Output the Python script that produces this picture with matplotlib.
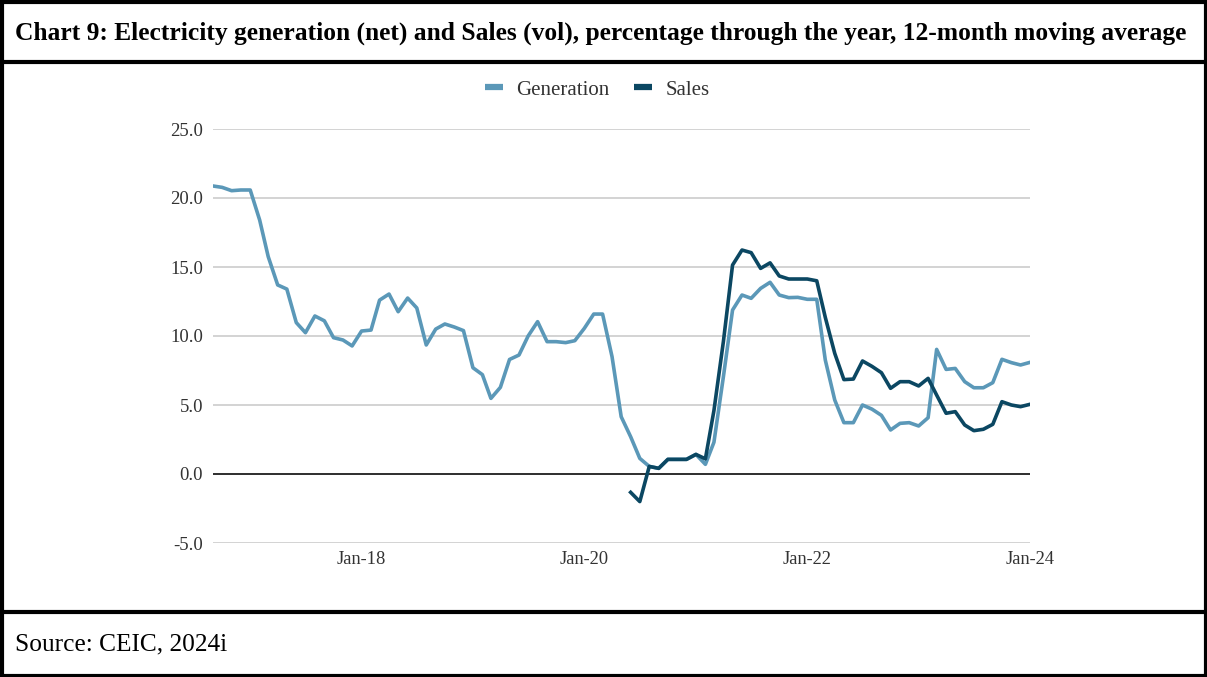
import matplotlib
matplotlib.use("Agg")
import matplotlib.pyplot as plt
import matplotlib.dates as mdates
from matplotlib.lines import Line2D
import numpy as np
import pandas as pd

# ---- data ----
dates = pd.date_range("2016-09-01", "2024-01-01", freq="MS")
generation = [20.87, 20.77, 20.53, 20.58, 20.58, 18.4, 15.75, 13.7, 13.4, 10.97,
              10.24, 11.45, 11.1, 9.88, 9.71, 9.28, 10.36, 10.43, 12.6, 13.04,
              11.76, 12.75, 12.03, 9.35, 10.5, 10.87, 10.65, 10.39, 7.7, 7.2,
              5.48, 6.28, 8.3, 8.62, 10.0, 11.04, 9.59, 9.59, 9.52, 9.66,
              10.55, 11.59, 11.59, 8.5, 4.15, 2.7, 1.13, 0.55, 0.41, 1.06,
              1.06, 1.06, 1.42, 0.7, 2.3, 7.05, 11.88, 12.97, 12.73, 13.45,
              13.89, 12.97, 12.78, 12.8, 12.66, 12.66, 8.26, 5.36, 3.72, 3.72,
              5.0, 4.7, 4.25, 3.19, 3.67, 3.72, 3.48, 4.08, 9.03, 7.58,
              7.65, 6.69, 6.25, 6.25, 6.62, 8.31, 8.07, 7.9, 8.09]
sales = [None] * 45 + [-1.33, -2.0, 0.55, 0.41, 1.06, 1.06, 1.06, 1.42, 1.1, 4.6,
                       9.6, 15.14, 16.23, 16.04, 14.9, 15.3, 14.35, 14.13, 14.13, 14.13,
                       14.0, 11.35, 8.74, 6.84, 6.88, 8.19, 7.8, 7.34, 6.21, 6.69,
                       6.69, 6.38, 6.93, 5.72, 4.4, 4.52, 3.55, 3.14, 3.24, 3.6,
                       5.24, 5.0, 4.88, 5.05]
yticks = [-5, 0, 5, 10, 15, 20, 25]
xtick_dates = ["2018-01-01", "2020-01-01", "2022-01-01", "2024-01-01"]
xtick_labels = ["Jan-18", "Jan-20", "Jan-22", "Jan-24"]
title = "Chart 9: Electricity generation (net) and Sales (vol), percentage through the year, 12-month moving average"
source = "Source: CEIC, 2024i"

gen_color = "#5b98b8"
sales_color = "#0b4762"
serif = ["Liberation Serif", "DejaVu Serif"]

W, H = 1207, 677
fig = plt.figure(figsize=(W / 100, H / 100), dpi=100)
fig.patch.set_facecolor("white")

ax = fig.add_axes([213 / W, 1 - 543 / H, (1030 - 213) / W, (543 - 129) / H])
sales_arr = np.array([np.nan if v is None else v for v in sales], dtype=float)
ax.plot(dates, generation, color=gen_color, lw=2.6, label="Generation", solid_joinstyle="round")
ax.plot(dates, sales_arr, color=sales_color, lw=2.6, label="Sales", solid_joinstyle="round")

ax.set_ylim(-5, 25)
ax.set_xlim(dates[0], dates[-1])
ax.set_yticks(yticks)
ax.set_yticklabels([f"{v:.1f}" for v in yticks], fontfamily=serif, fontsize=13.5, color="#333333")
ax.set_xticks(pd.to_datetime(xtick_dates))
ax.set_xticklabels(xtick_labels, fontfamily=serif, fontsize=13.3, color="#333333")
ax.tick_params(axis="both", length=0)
ax.tick_params(axis="y", pad=7.2)
ax.tick_params(axis="x", pad=6)
ax.grid(axis="y", color="#d0d0d0", lw=1.3)
ax.set_axisbelow(True)
ax.axhline(0, color="#222222", lw=1.3, zorder=1.5)
for s in ax.spines.values():
    s.set_visible(False)

leg = fig.legend(handles=[Line2D([], [], color=gen_color, lw=4.5, solid_capstyle="butt"),
                          Line2D([], [], color=sales_color, lw=4.5, solid_capstyle="butt")],
                 labels=["Generation", "Sales"], loc="center", bbox_to_anchor=(597 / W, 1 - 90 / H),
                 ncol=2, frameon=False, prop={"family": serif, "size": 15}, handlelength=0.87,
                 columnspacing=1.2, handletextpad=0.63)
for t in leg.get_texts():
    t.set_color("#333333")

# borders
def hline(y, lw=3):
    fig.add_artist(Line2D([0, 1], [1 - y / H, 1 - y / H], color="black", lw=lw, transform=fig.transFigure))

def vline(x, lw=3):
    fig.add_artist(Line2D([x / W, x / W], [0, 1], color="black", lw=lw, transform=fig.transFigure))

hline(1.5); hline(62); hline(612); hline(675.5)
vline(1.5); vline(1205.5)

# title, fitted to width
t = fig.text(15 / W, 1 - 33 / H, title, fontfamily=serif, fontweight="bold", fontsize=16,
             va="center", ha="left", color="black")
fig.canvas.draw()
r = fig.canvas.get_renderer()
wpx = t.get_window_extent(r).width
t.set_fontsize(16 * (1177 / wpx))

fig.text(15 / W, 1 - 644 / H, source, fontfamily=serif, fontsize=18.3, va="center", ha="left", color="black")

fig.savefig("out.png", dpi=100)
